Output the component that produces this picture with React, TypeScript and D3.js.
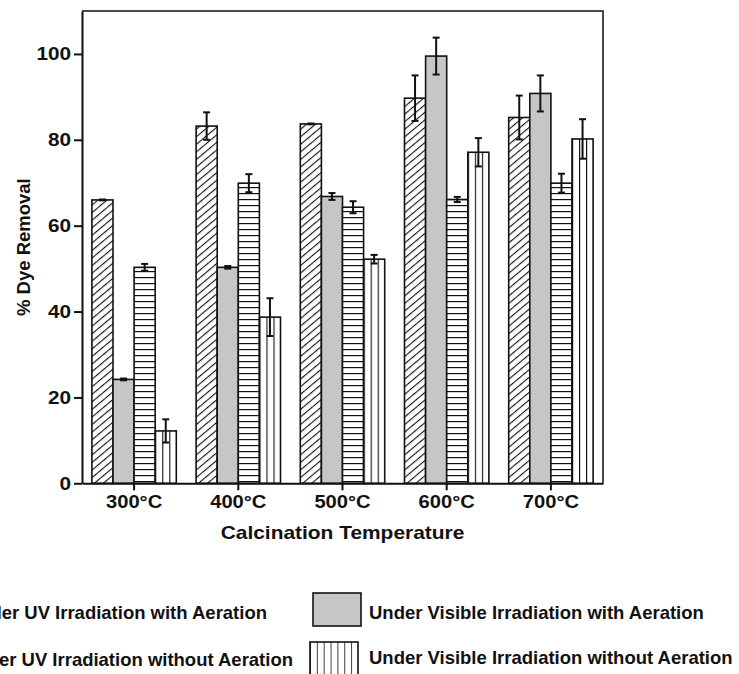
import React, { useEffect, useRef } from 'react';
import * as d3 from 'd3';

const categories = ['300°C', '400°C', '500°C', '600°C', '700°C'];
const seriesNames = [
  'Under UV Irradiation with Aeration',
  'Under Visible Irradiation with Aeration',
  'Under UV Irradiation without Aeration',
  'Under Visible Irradiation without Aeration',
];
const uvAeration = [66.0, 83.2, 83.7, 89.7, 85.2];
const uvAerationErr = [0.1, 3.2, 0.1, 5.3, 5.1];
const visAeration = [24.2, 50.3, 66.8, 99.5, 90.8];
const visAerationErr = [0.2, 0.3, 0.8, 4.3, 4.2];
const uvNoAeration = [50.3, 69.9, 64.3, 66.1, 69.9];
const uvNoAerationErr = [0.8, 2.1, 1.4, 0.6, 2.2];
const visNoAeration = [12.2, 38.7, 52.2, 77.1, 80.2];
const visNoAerationErr = [2.7, 4.4, 1.0, 3.3, 4.6];
const yTicks = [0, 20, 40, 60, 80, 100];

const W = 739;
const H = 674;
const FONT = '"Liberation Sans", Arial, Helvetica, sans-serif';
const INK = '#111';
const GRAY = '#c6c6c6';

// fills for each series (pattern ids)
const fills = ['url(#hatch)', GRAY, 'url(#hstripe)', 'url(#vstripe)'];

// widen text horizontally (the original figure is a bit stretched)
function stretch(sel: any, k: number) {
  sel.each(function (this: SVGTextElement) {
    const w = this.getComputedTextLength();
    this.setAttribute('textLength', String(w * k));
    this.setAttribute('lengthAdjust', 'spacingAndGlyphs');
  });
}

const App = () => {
  const ref = useRef<SVGSVGElement>(null);

  useEffect(() => {
    if (!ref.current) return;
    const svg = d3.select(ref.current);
    svg.selectAll('*').remove();

    const values = [uvAeration, visAeration, uvNoAeration, visNoAeration];
    const errors = [uvAerationErr, visAerationErr, uvNoAerationErr, visNoAerationErr];

    const margin = { left: 82, top: 11, right: 603, bottom: 483.3 };

    const x0 = d3.scaleBand<string>()
      .domain(categories)
      .range([margin.left, margin.right])
      .paddingInner(0.19)
      .paddingOuter(0.095);
    const x1 = d3.scaleBand<number>()
      .domain(d3.range(seriesNames.length))
      .range([0, x0.bandwidth()])
      .padding(0);
    const y = d3.scaleLinear().domain([0, 110]).range([margin.bottom, margin.top]);

    // patterns
    const defs = svg.append('defs');
    const hatch = defs.append('pattern')
      .attr('id', 'hatch')
      .attr('patternUnits', 'userSpaceOnUse')
      .attr('width', 5.8)
      .attr('height', 10)
      .attr('patternTransform', 'rotate(50)');
    hatch.append('rect').attr('width', 5.8).attr('height', 10).attr('fill', '#fff');
    hatch.append('line')
      .attr('x1', 0).attr('y1', 0).attr('x2', 0).attr('y2', 10)
      .attr('stroke', INK).attr('stroke-width', 2.2);

    const hs = defs.append('pattern')
      .attr('id', 'hstripe')
      .attr('patternUnits', 'userSpaceOnUse')
      .attr('width', 10)
      .attr('height', 6)
      .attr('y', 1);
    hs.append('rect').attr('width', 10).attr('height', 6).attr('fill', '#fff');
    hs.append('line')
      .attr('x1', 0).attr('y1', 0.5).attr('x2', 10).attr('y2', 0.5)
      .attr('stroke', INK).attr('stroke-width', 1.4);

    const vs = defs.append('pattern')
      .attr('id', 'vstripe')
      .attr('patternUnits', 'objectBoundingBox')
      .attr('width', 1 / 3)
      .attr('height', 1);
    vs.append('rect').attr('width', 20).attr('height', 1000).attr('fill', '#fff');
    vs.append('line')
      .attr('x1', 0).attr('y1', 0).attr('x2', 0).attr('y2', 1000)
      .attr('stroke', INK).attr('stroke-width', 2.2);

    const vsLeg = defs.append('pattern')
      .attr('id', 'vstripeLegend')
      .attr('patternUnits', 'userSpaceOnUse')
      .attr('x', 310)
      .attr('width', 6.85)
      .attr('height', 10);
    vsLeg.append('rect').attr('width', 6.85).attr('height', 10).attr('fill', '#fff');
    vsLeg.append('line')
      .attr('x1', 0).attr('y1', 0).attr('x2', 0).attr('y2', 10)
      .attr('stroke', INK).attr('stroke-width', 1.6);

    // bars
    const groups = svg.append('g')
      .selectAll('g')
      .data(categories)
      .join('g')
      .attr('transform', (d) => `translate(${x0(d)},0)`);

    groups.selectAll('rect')
      .data((d, i) => values.map((s, k) => ({ k, v: s[i] })))
      .join('rect')
      .attr('x', (d) => x1(d.k)!)
      .attr('y', (d) => y(d.v))
      .attr('width', x1.bandwidth())
      .attr('height', (d) => y(0) - y(d.v))
      .attr('fill', (d) => fills[d.k])
      .attr('stroke', INK)
      .attr('stroke-width', 1.6);

    // error bars
    const eb = groups.selectAll('g.err')
      .data((d, i) => values.map((s, k) => ({ k, v: s[i], e: errors[k][i] })))
      .join('g')
      .attr('class', 'err')
      .attr('stroke', INK)
      .attr('stroke-width', 2);
    const cx = (d: any) => x1(d.k)! + x1.bandwidth() / 2;
    eb.append('line')
      .attr('x1', cx).attr('x2', cx)
      .attr('y1', (d) => y(d.v + d.e)).attr('y2', (d) => y(d.v - d.e));
    eb.append('line')
      .attr('x1', (d) => cx(d) - 3.5).attr('x2', (d) => cx(d) + 3.5)
      .attr('y1', (d) => y(d.v + d.e)).attr('y2', (d) => y(d.v + d.e));
    eb.append('line')
      .attr('x1', (d) => cx(d) - 3.5).attr('x2', (d) => cx(d) + 3.5)
      .attr('y1', (d) => y(d.v - d.e)).attr('y2', (d) => y(d.v - d.e));

    // frame (top and right)
    svg.append('path')
      .attr('d', `M${margin.left},${margin.top}H${margin.right}V${margin.bottom}`)
      .attr('fill', 'none')
      .attr('stroke', INK)
      .attr('stroke-width', 1.5);

    // y axis
    const yAxis = svg.append('g')
      .attr('transform', `translate(${margin.left},0)`)
      .call(d3.axisLeft(y).tickValues(yTicks).tickSize(8).tickSizeOuter(0).tickPadding(3));
    yAxis.select('.domain').attr('stroke', INK).attr('stroke-width', 2);
    yAxis.selectAll('.tick line').attr('stroke', INK).attr('stroke-width', 2);
    const yLabels = yAxis.selectAll('.tick text')
      .attr('fill', INK)
      .attr('font-family', FONT)
      .attr('font-weight', 'bold')
      .attr('font-size', 18.5);
    stretch(yLabels, 1.12);

    // x axis
    const xAxis = svg.append('g')
      .attr('transform', `translate(0,${margin.bottom})`)
      .call(d3.axisBottom(x0).tickSize(7).tickSizeOuter(0).tickPadding(5));
    xAxis.select('.domain').attr('stroke', INK).attr('stroke-width', 2);
    xAxis.selectAll('.tick line').attr('stroke', INK).attr('stroke-width', 2);
    const xLabels = xAxis.selectAll('.tick text')
      .attr('fill', INK)
      .attr('font-family', FONT)
      .attr('font-weight', 'bold')
      .attr('font-size', 18);
    stretch(xLabels, 1.12);

    // axis titles
    const xTitle = svg.append('text')
      .attr('x', (margin.left + margin.right) / 2)
      .attr('y', 539)
      .attr('text-anchor', 'middle')
      .attr('fill', INK)
      .attr('font-family', FONT)
      .attr('font-weight', 'bold')
      .attr('font-size', 18.5)
      .text('Calcination Temperature');
    stretch(xTitle, 1.13);

    svg.append('text')
      .attr('transform', `translate(30,${(margin.top + margin.bottom) / 2}) rotate(-90)`)
      .attr('text-anchor', 'middle')
      .attr('fill', INK)
      .attr('font-family', FONT)
      .attr('font-weight', 'bold')
      .attr('font-size', 18.5)
      .text('% Dye Removal');

    // legend: two columns, left column runs off the page edge
    const legendItems = [
      { name: seriesNames[0], fill: 'url(#hatch)', sx: -92, sy: 593, tx: 267, ty: 619, anchor: 'end' },
      { name: seriesNames[1], fill: GRAY, sx: 313, sy: 593, tx: 369, ty: 619, anchor: 'start' },
      { name: seriesNames[2], fill: 'url(#hstripe)', sx: -92, sy: 642, tx: 293, ty: 666, anchor: 'end' },
      { name: seriesNames[3], fill: 'url(#vstripeLegend)', sx: 310, sy: 642, tx: 369, ty: 664, anchor: 'start' },
    ];
    const leg = svg.append('g')
      .selectAll('g')
      .data(legendItems)
      .join('g');
    leg.append('rect')
      .attr('x', (d) => d.sx)
      .attr('y', (d) => d.sy)
      .attr('width', 48)
      .attr('height', 33)
      .attr('fill', (d) => d.fill)
      .attr('stroke', INK)
      .attr('stroke-width', 1.6);
    const legText = leg.append('text')
      .attr('x', (d) => d.tx)
      .attr('y', (d) => d.ty)
      .attr('text-anchor', (d) => d.anchor)
      .attr('fill', INK)
      .attr('font-family', FONT)
      .attr('font-weight', 'bold')
      .attr('font-size', 17.7)
      .text((d) => d.name);
    stretch(legText, 1.045);
  }, []);

  return (
    <svg
      ref={ref}
      width={W}
      height={H}
      style={{ position: 'absolute', left: 0, top: 0, background: '#fff' }}
    />
  );
};

export default App;
